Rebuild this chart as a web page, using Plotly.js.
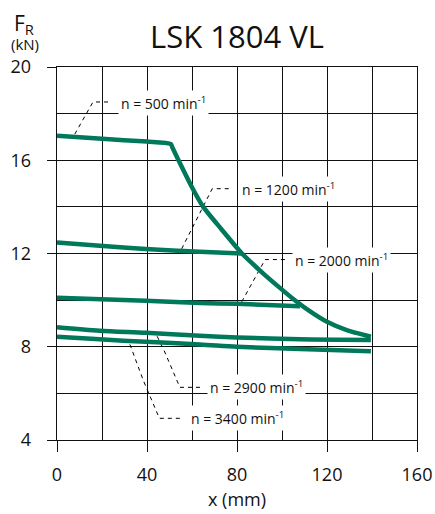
<!DOCTYPE html>
<html>
<head>
<meta charset="utf-8">
<script src="https://cdn.plot.ly/plotly-3.0.1.min.js"></script>
<style>html,body{margin:0;padding:0;background:#fff;}#chart{width:435px;height:514px;}</style>
</head>
<body>
<div id="chart"></div>
<script>
// ---- data ----
const x500  = [0, 20, 40, 50.5, 51.5, 54, 59.5, 65, 73, 82, 91.7, 100, 105, 112, 120, 128.8, 139.5];
const y500  = [17.05, 16.92, 16.8, 16.7, 16.5, 16.0, 14.93, 14.0, 13.05, 12.02, 11.14, 10.45, 10.05, 9.55, 9.07, 8.71, 8.43];
const x1200 = [0, 19, 39.4, 63.5, 82];
const y1200 = [12.47, 12.33, 12.19, 12.07, 12.0];
const x2000 = [0, 39.4, 63.5, 80, 108];
const y2000 = [10.1, 9.97, 9.88, 9.84, 9.74];
const x2900 = [0, 19, 39.4, 63.5, 80, 108, 139.5];
const y2900 = [8.84, 8.69, 8.6, 8.47, 8.4, 8.32, 8.29];
const x3400 = [0, 19, 39.4, 63.5, 80, 108, 139.5];
const y3400 = [8.43, 8.32, 8.21, 8.1, 8.0, 7.9, 7.81];

const speedLabels = ["n = 500 min<sup>-1</sup>", "n = 1200 min<sup>-1</sup>", "n = 2000 min<sup>-1</sup>",
                     "n = 2900 min<sup>-1</sup>", "n = 3400 min<sup>-1</sup>"];
const labelX = [27, 81, 104.4, 66.5, 58.3];
const labelY = [18.45, 14.78, 11.74, 6.26, 4.93];
// leader lines (data coordinates) from curve to label
const leaderX = [[7.9, 16, 23.5], [55.4, 69, 77.5], [82.1, 92.5, 102], [44.5, 47.5, 54.6, 64.3], [32.4, 38.3, 45.5, 54.6]];
const leaderY = [[17.12, 18.5, 18.5], [12.2, 14.78, 14.78], [9.93, 11.74, 11.74], [8.45, 7.86, 6.26, 6.26], [8.1, 6.57, 4.93, 4.93]];

const xTicks = [0, 40, 80, 120, 160];
const yTicks = [4, 8, 12, 16, 20];

const curveColor = '#00785a';
const traces = [];
leaderX.forEach((lx, i) => {
  traces.push({x: lx, y: leaderY[i], mode: 'lines', type: 'scatter', hoverinfo: 'skip',
    line: {color: '#000', width: 1, dash: '4px,4px'}, showlegend: false});
});
const curves = [[x500, y500, 0.6], [x1200, y1200, 0.8], [x2000, y2000, 0.8],
                [x2900, y2900, 0.8], [x3400, y3400, 0.8]];
curves.forEach(([cx, cy, sm]) => {
  traces.push({x: cx, y: cy, mode: 'lines', type: 'scatter',
    line: {color: curveColor, width: 4.5, shape: 'spline', smoothing: sm}, showlegend: false});
});

const annotations = speedLabels.map((t, i) => ({
  x: labelX[i], y: labelY[i], xref: 'x', yref: 'y', text: t, showarrow: false,
  xanchor: 'left', yanchor: 'middle', bgcolor: '#fff', borderpad: 2,
  font: {family: 'Open Sans', size: 14, color: '#111'}
}));
annotations.push({xref: 'paper', yref: 'paper', x: -0.125, y: 1.114, xanchor: 'left', yanchor: 'middle',
  text: 'F<sub>R</sub>', showarrow: false, font: {family: 'Open Sans', size: 21, color: '#111'}});
annotations.push({xref: 'paper', yref: 'paper', x: -0.09, y: 1.062, xanchor: 'center', yanchor: 'middle',
  text: '(kN)', showarrow: false, font: {family: 'Open Sans', size: 15, color: '#111'}});

const layout = {
  width: 435, height: 514,
  margin: {l: 57, r: 18, t: 67, b: 74},
  paper_bgcolor: '#fff', plot_bgcolor: '#fff',
  font: {family: 'Open Sans', color: '#111'},
  title: {text: 'LSK 1804 VL', x: 0.5, xref: 'paper', y: 0.927, yanchor: 'middle',
          font: {family: 'Open Sans', size: 31, color: '#111'}},
  xaxis: {range: [0, 160], tickvals: xTicks, ticks: 'outside', ticklen: 11, tickcolor: '#111', tickwidth: 1,
          showgrid: true, gridcolor: '#111', gridwidth: 1, zeroline: false,
          showline: true, mirror: true, linecolor: '#111', linewidth: 1.3,
          minor: {dtick: 20, showgrid: true, gridcolor: '#111', gridwidth: 1, ticks: ''},
          tickfont: {family: 'Open Sans', size: 18, color: '#111'}, ticklabelstandoff: 7,
          title: {text: 'x (mm)', standoff: 8, font: {family: 'Open Sans', size: 18, color: '#111'}},
          fixedrange: true},
  yaxis: {range: [4, 20], tickvals: yTicks, ticks: 'outside', ticklen: 9, tickcolor: '#111', tickwidth: 1,
          showgrid: true, gridcolor: '#111', gridwidth: 1, zeroline: false,
          showline: true, mirror: true, linecolor: '#111', linewidth: 1.3,
          minor: {dtick: 2, showgrid: true, gridcolor: '#111', gridwidth: 1, ticks: ''},
          tickfont: {family: 'Open Sans', size: 18, color: '#111'}, ticklabelstandoff: 12,
          fixedrange: true},
  annotations: annotations,
  showlegend: false
};
Plotly.newPlot('chart', traces, layout, {displayModeBar: false, staticPlot: true});
</script>
</body>
</html>
